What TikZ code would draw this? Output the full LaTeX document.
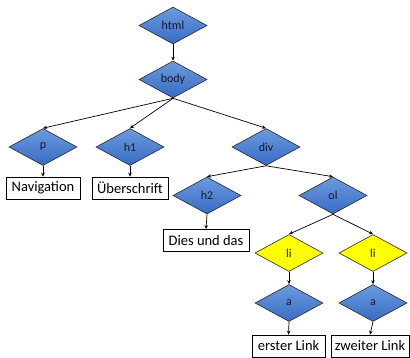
\documentclass[tikz,border=0pt]{standalone}
\usepackage{fontspec}
\setmainfont{Carlito}
\usetikzlibrary{shapes.geometric,arrows.meta}
\definecolor{bluetop}{RGB}{108,154,222}
\definecolor{bluebot}{RGB}{56,108,196}
\definecolor{dtext}{RGB}{20,25,45}
\begin{document}
\begin{tikzpicture}[x=1pt,y=-1pt,
  dnode/.style={diamond,draw=black!85,line width=0.6pt,inner sep=0pt,
    minimum width=68pt,minimum height=37pt,
    font=\fontsize{12}{14}\selectfont,text=dtext},
  bluenode/.style={dnode,top color=bluetop,bottom color=bluebot},
  yellownode/.style={dnode,top color=yellow,bottom color=yellow},
  boxnode/.style={draw=black,line width=0.7pt,fill=white,inner sep=0pt,
    minimum height=22pt,font=\fontsize{14.5}{16}\selectfont},
  edge/.style={-{Stealth[length=4pt,width=3.5pt]},line width=0.7pt,black}]
\useasboundingbox (0,0) rectangle (410,358);
\node[bluenode] (html) at (173,25.5) {html};
\node[bluenode] (body) at (173,79.5) {body};
\node[bluenode] (p) at (43,147) {p};
\node[bluenode] (h1) at (130,147) {h1};
\node[bluenode] (div) at (266,147) {div};
\node[bluenode] (h2) at (207,195.5) {h2};
\node[bluenode] (ol) at (333,195.5) {ol};
\node[yellownode] (li1) at (289,253) {li};
\node[yellownode] (li2) at (373,253) {li};
\node[bluenode] (a1) at (289,303) {a};
\node[bluenode] (a2) at (373,303) {a};
\node[boxnode,minimum width=74pt] (nav) at (43,188) {Navigation};
\node[boxnode,minimum width=76pt] (ueb) at (130,188) {Überschrift};
\node[boxnode,minimum width=86pt] (dies) at (206,240.5) {Dies und das};
\node[boxnode,minimum width=73pt] (erst) at (288.5,346) {erster Link};
\node[boxnode,minimum width=78pt] (zweit) at (370,346) {zweiter Link};
\draw[edge] (html.south) -- (body.north);
\draw[edge] (body.south) -- (p.north);
\draw[edge] (body.south) -- (h1.north);
\draw[edge] (body.south) -- (div.north);
\draw[edge] (p.south) -- (nav.north);
\draw[edge] (h1.south) -- (ueb.north);
\draw[edge] (div.south) -- (h2.north);
\draw[edge] (div.south) -- (ol.north);
\draw[edge] (h2.south) -- (dies.north);
\draw[edge] (ol.south) -- (li1.north);
\draw[edge] (ol.south) -- (li2.north);
\draw[edge] (li1.south) -- (a1.north);
\draw[edge] (li2.south) -- (a2.north);
\draw[edge] (a1.south) -- (erst.north);
\draw[edge] (a2.south) -- (zweit.north);
\end{tikzpicture}
\end{document}
